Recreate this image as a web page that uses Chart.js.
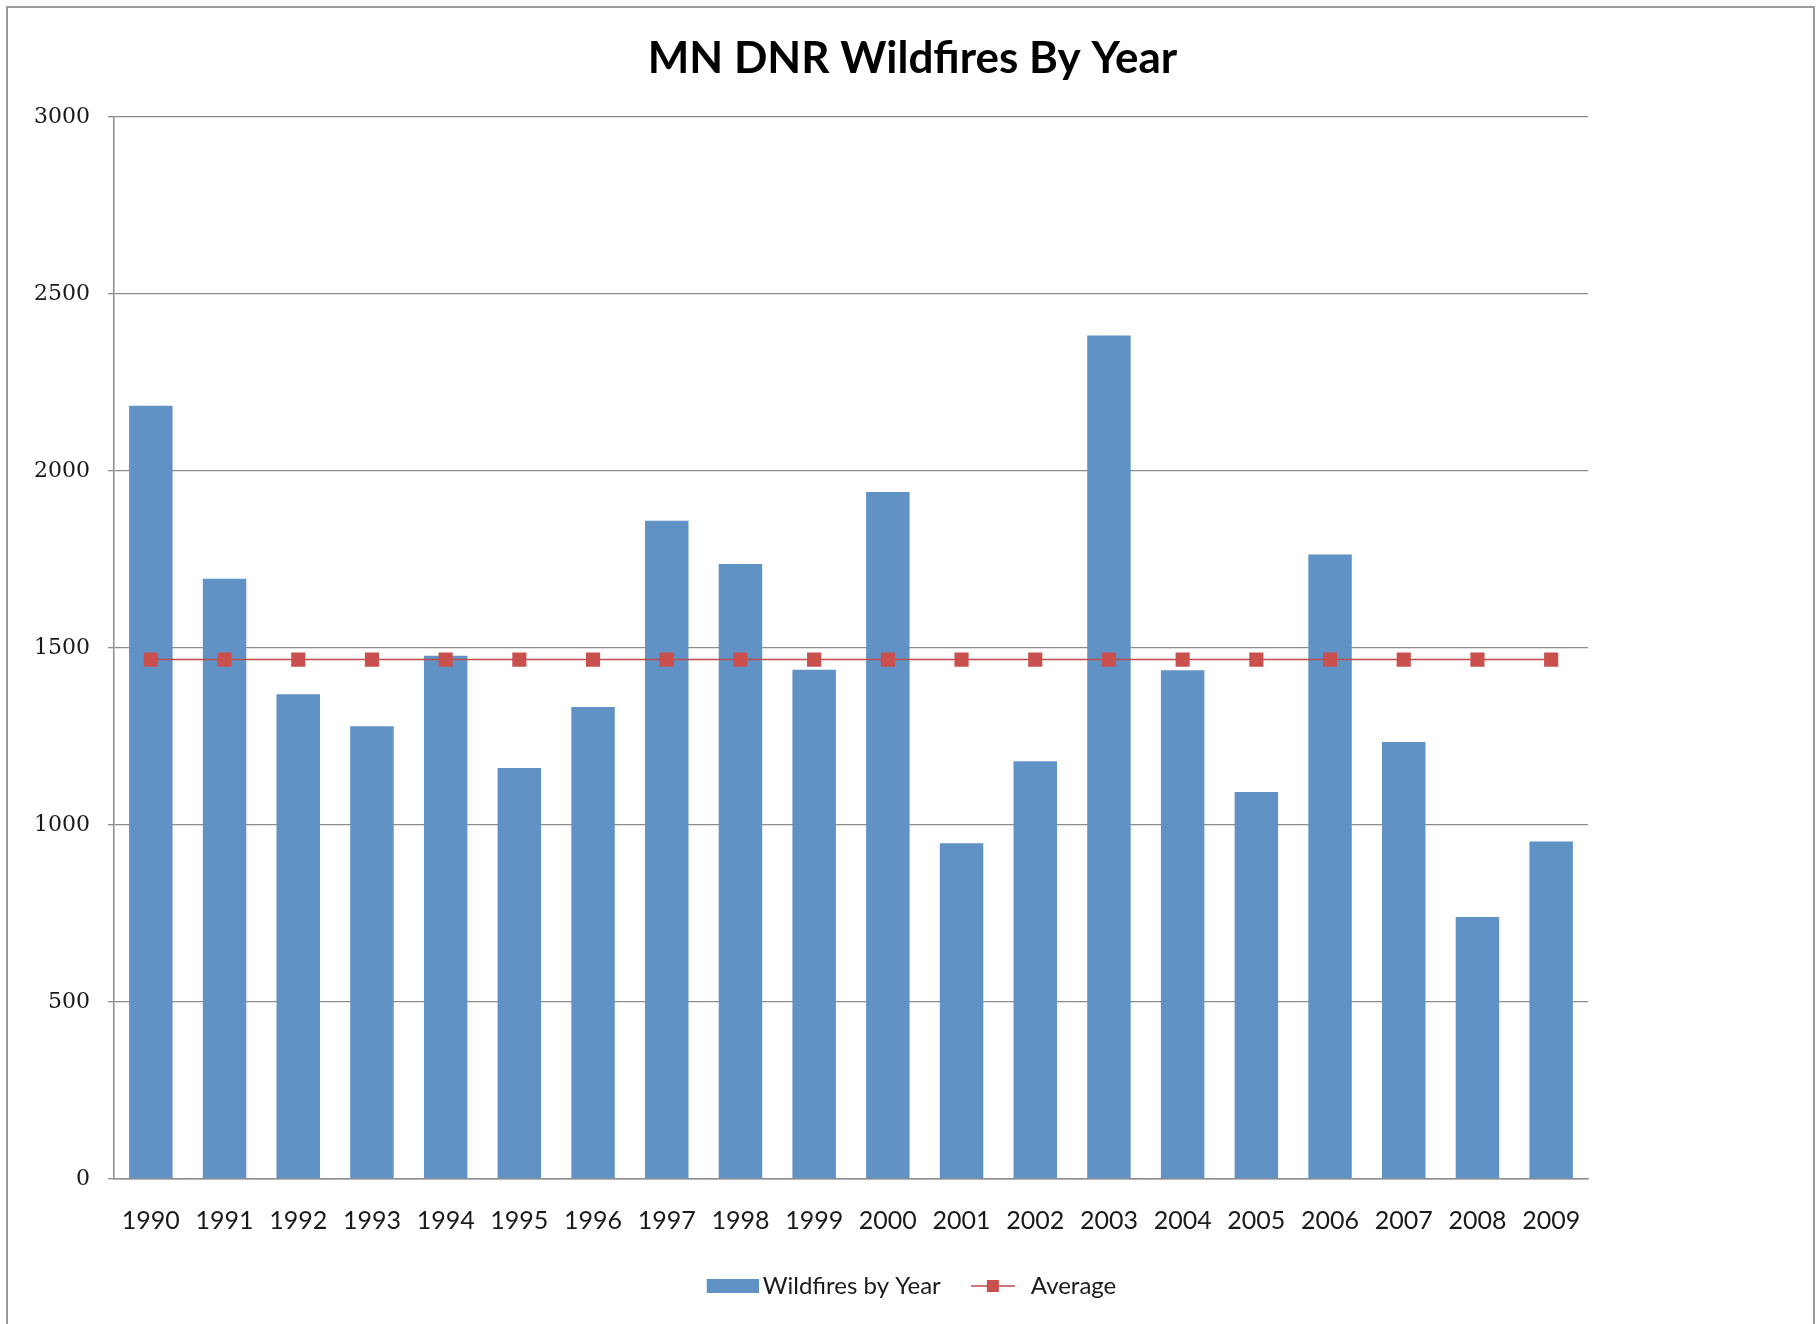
<!DOCTYPE html>
<html>
<head>
<meta charset="utf-8">
<script src="https://cdn.jsdelivr.net/npm/chart.js@4.4.1/dist/chart.umd.min.js"></script>
<style>
  html, body { margin: 0; padding: 0; background: #fff; }
  #wrap { position: relative; width: 1817px; height: 1324px; }
  #frame {
    position: absolute; left: 6px; top: 6px; width: 1805px; height: 1330px;
    border: 2px solid #9a9a9a; pointer-events: none;
  }
</style>
</head>
<body>
<div id="wrap">
  <canvas id="chartFires"></canvas>
  <div id="frame"></div>
</div>
<script>
const years = ['1990', '1991', '1992', '1993', '1994', '1995', '1996', '1997', '1998', '1999',
               '2000', '2001', '2002', '2003', '2004', '2005', '2006', '2007', '2008', '2009'];
const wildfires = [2184, 1695, 1369, 1279, 1478, 1161, 1333, 1859, 1737, 1438,
                   1940, 948, 1180, 2382, 1437, 1093, 1764, 1234, 740, 953];
const average = [1467, 1467, 1467, 1467, 1467, 1467, 1467, 1467, 1467, 1467,
                 1467, 1467, 1467, 1467, 1467, 1467, 1467, 1467, 1467, 1467];
const yMin = 0;
const yMax = 3000;
const yStep = 500;

const barColor = '#6092c6';
const lineColor = '#be4b48';

// legend icons, Excel style (a bit of blank room on the left to sit them right)
const barIcon = document.createElement('canvas');
barIcon.width = 58; barIcon.height = 14;
let g = barIcon.getContext('2d');
g.fillStyle = barColor;
g.fillRect(6, 0, 52, 14);

const lineIcon = document.createElement('canvas');
lineIcon.width = 54; lineIcon.height = 14;
g = lineIcon.getContext('2d');
g.strokeStyle = lineColor;
g.lineWidth = 1.5;
g.beginPath(); g.moveTo(0, 7); g.lineTo(44, 7); g.stroke();
g.fillStyle = '#c9504d';
g.fillRect(16, 1, 12, 12);

const ctxFires = document.getElementById('chartFires').getContext('2d');
const chartFires = new Chart(ctxFires, {
    type: 'bar',
    data: {
        labels: years,
        datasets: [{
            label: 'Wildfires by Year',
            data: wildfires,
            backgroundColor: barColor,
            barPercentage: 0.59,
            categoryPercentage: 1,
            order: 2
        }, {
            type: 'line',
            label: 'Average',
            data: average,
            borderColor: lineColor,
            borderWidth: 1.5,
            pointStyle: 'rect',
            pointRadius: 10,
            pointBackgroundColor: '#c9504d',
            pointBorderColor: '#c9504d',
            pointBorderWidth: 0,
            fill: false,
            order: 1
        }]
    },
    options: {
        responsive: true,
        maintainAspectRatio: false,
        animation: false,
        layout: {
            padding: { top: 0, left: 8, right: 0, bottom: 16 }
        },
        plugins: {
            title: {
                display: true,
                text: 'MN DNR Wildfires By Year',
                color: '#000',
                font: { family: 'Lato', size: 44, weight: 'bold', lineHeight: 1.2 },
                padding: { top: 32, bottom: 32 }
            },
            legend: {
                position: 'bottom',
                labels: {
                    usePointStyle: true,
                    pointStyleWidth: 42,
                    padding: 36,
                    color: '#1a1a1a',
                    font: { family: 'Lato', size: 24 },
                    sort: (a, b) => a.datasetIndex - b.datasetIndex,
                    generateLabels: (chart) =>
                        Chart.defaults.plugins.legend.labels.generateLabels(chart).map(item => {
                            item.pointStyle = item.datasetIndex === 0 ? barIcon : lineIcon;
                            return item;
                        })
                }
            },
            tooltip: { enabled: false }
        },
        scales: {
            x: {
                grid: { display: false, drawTicks: false },
                border: { display: true, color: '#8c8c8c', width: 1.5 },
                ticks: {
                    color: '#1a1a1a',
                    padding: 27,
                    font: { family: 'Lato', size: 25 }
                },
                afterFit: (scale) => { scale.height = 59; }
            },
            y: {
                min: yMin,
                max: yMax,
                grid: { color: '#8c8c8c', lineWidth: 1.3, tickLength: 6 },
                border: { display: true, color: '#8c8c8c', width: 1.5 },
                ticks: {
                    stepSize: yStep,
                    color: '#1a1a1a',
                    padding: 18,
                    font: { family: 'DejaVu Serif', size: 22 },
                    callback: (v) => String(v)
                },
                afterFit: (scale) => { scale.width = 106; }
            },
            // empty right-hand space, as in the original sheet
            yRight: {
                position: 'right',
                display: true,
                grid: { display: false, drawOnChartArea: false },
                border: { display: false },
                ticks: { display: false },
                afterFit: (scale) => { scale.width = 229; }
            }
        }
    }
});
</script>
</body>
</html>
